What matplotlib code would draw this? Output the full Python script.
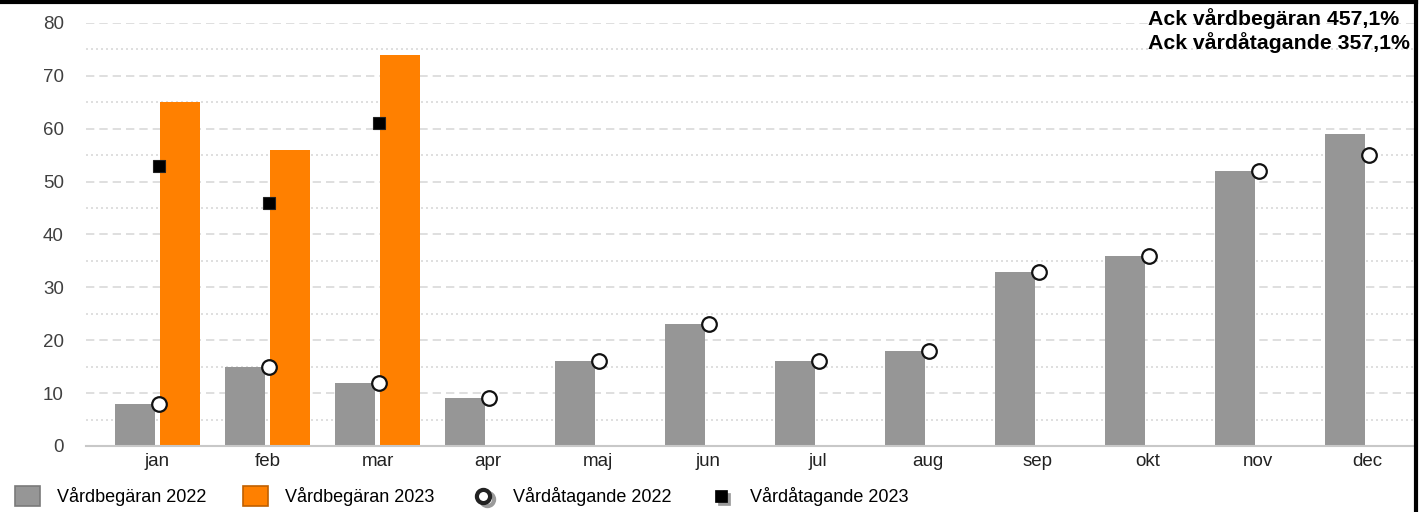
import matplotlib
matplotlib.use("Agg")
import matplotlib.pyplot as plt
import numpy as np
from matplotlib.lines import Line2D
from matplotlib.patches import Patch
from matplotlib.legend_handler import HandlerBase
from matplotlib.transforms import Affine2D

plt.rcParams['font.family'] = ['Liberation Sans', 'DejaVu Sans']

months = ["jan", "feb", "mar", "apr", "maj", "jun", "jul", "aug", "sep", "okt", "nov", "dec"]
vardbegaran_2022 = [8, 15, 12, 9, 16, 23, 16, 18, 33, 36, 52, 59]
vardbegaran_2023 = [65, 56, 74]
vardatagande_2022 = [8, 15, 12, 9, 16, 23, 16, 18, 33, 36, 52, 55]
vardatagande_2023 = [53, 46, 61]
ack_lines = ["Ack vårdbegäran 457,1%", "Ack vårdåtagande 357,1%"]
yticks = [0, 10, 20, 30, 40, 50, 60, 70, 80]

GRAY = "#969696"
ORANGE = "#FF8000"
GRID = "#D9D9D9"

W, H = 1424, 512
fig = plt.figure(figsize=(W / 100, H / 100), dpi=100)
ax = fig.add_axes([86 / W, (H - 446) / H, (1414 - 86) / W, (446 - 23) / H])

x = np.arange(len(months))
bw = 0.36
off = 0.205
ax.bar(x - off, vardbegaran_2022, width=bw, color=GRAY, zorder=2)
x23 = np.arange(len(vardbegaran_2023))
ax.bar(x23 + off, vardbegaran_2023, width=bw, color=ORANGE, zorder=2)
ax.plot(x + 0.015, vardatagande_2022, linestyle='none', marker='o', markersize=10.5,
        markerfacecolor='white', markeredgecolor='#111111', markeredgewidth=1.6, zorder=3)
ax.plot(x23 + 0.015, vardatagande_2023, linestyle='none', marker='s', markersize=8.5,
        markerfacecolor='black', markeredgecolor='#222222', markeredgewidth=0.8, zorder=3)

ax.set_ylim(0, 80)
ax.set_xlim(-0.65, 11.42)
ax.set_yticks(yticks)
ax.set_yticks(np.arange(5, 80, 10), minor=True)
ax.set_xticks(x)
ax.set_xticklabels(months)
ax.grid(axis='y', which='major', color=GRID, linestyle=(0, (5, 3)), linewidth=1.2, zorder=0)
ax.grid(axis='y', which='minor', color=GRID, linestyle=(0, (1.2, 1.8)), linewidth=1.2, zorder=0)
ax.tick_params(axis='y', which='both', length=0, pad=16, labelsize=13.5, labelcolor='#404040')
ax.tick_params(axis='x', length=0, pad=5, labelsize=13.5, labelcolor='#222222')
for s in ['top', 'right', 'left']:
    ax.spines[s].set_visible(False)
ax.spines['bottom'].set_color('#C8C8C8')
ax.spines['bottom'].set_linewidth(1.5)

# annotation
fig.text(1148 / W, 1 - 19 / H, ack_lines[0], ha='left', va='center',
         fontsize=15.3, fontweight='bold', color='black')
fig.text(1148 / W, 1 - 43 / H, ack_lines[1], ha='left', va='center',
         fontsize=15.3, fontweight='bold', color='black')

# border lines (top and right)
fig.add_artist(Line2D([0, 1416 / W], [1 - 1.5 / H, 1 - 1.5 / H], transform=fig.transFigure,
                      color='black', linewidth=3))
fig.add_artist(Line2D([1416 / W, 1416 / W], [0, 1], transform=fig.transFigure,
                      color='black', linewidth=3))


class ShadowMarkerHandler(HandlerBase):
    def create_artists(self, legend, orig_handle, xdescent, ydescent, width, height,
                       fontsize, trans):
        cx = width / 2 - xdescent
        cy = height / 2 - ydescent
        kw = dict(linestyle='none', marker=orig_handle.get_marker(),
                  markersize=orig_handle.get_markersize(),
                  markeredgewidth=orig_handle.get_markeredgewidth())
        sh = Line2D([cx + 2.2], [cy - 2.2], markerfacecolor='none' if orig_handle.get_marker() == 'o' else '#9A9A9A',
                    markeredgecolor='#9A9A9A', **kw)
        main = Line2D([cx], [cy], markerfacecolor=orig_handle.get_markerfacecolor(),
                      markeredgecolor=orig_handle.get_markeredgecolor(), **kw)
        sh.set_transform(trans)
        main.set_transform(trans)
        return [sh, main]


h_circle = Line2D([], [], linestyle='none', marker='o', markersize=9.5, markerfacecolor='white',
                  markeredgecolor='#222222', markeredgewidth=3)
h_square = Line2D([], [], linestyle='none', marker='s', markersize=8, markerfacecolor='black',
                  markeredgecolor='black', markeredgewidth=0.5)
handles = [
    Patch(facecolor=GRAY, edgecolor='#7A7A7A', linewidth=1.2),
    Patch(facecolor=ORANGE, edgecolor='#C06000', linewidth=1.2),
    h_circle,
    h_square,
]
labels = ["Vårdbegäran 2022", "Vårdbegäran 2023", "Vårdåtagande 2022", "Vårdåtagande 2023"]
leg = fig.legend(handles, labels, loc='center left', bbox_to_anchor=(15 / W, 1 - 496 / H),
                 ncol=4, frameon=False, fontsize=13, handlelength=1.4, handleheight=1.4,
                 handletextpad=0.95, columnspacing=2.0, borderpad=0, borderaxespad=0,
                 handler_map={h_circle: ShadowMarkerHandler(), h_square: ShadowMarkerHandler()})

fig.savefig("out.png", dpi=100, facecolor='white')
